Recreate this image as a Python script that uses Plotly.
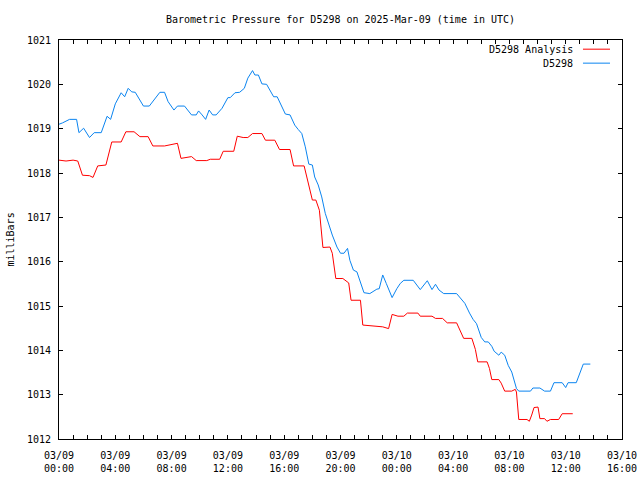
import plotly.graph_objects as go

# ---- data ----
blue_times = [
    "2025-03-09 00:00", "2025-03-09 00:15", "2025-03-09 00:45", "2025-03-09 01:15", "2025-03-09 01:25",
    "2025-03-09 01:45", "2025-03-09 02:10", "2025-03-09 02:30", "2025-03-09 03:00", "2025-03-09 03:25",
    "2025-03-09 03:40", "2025-03-09 04:00", "2025-03-09 04:25", "2025-03-09 04:40", "2025-03-09 04:55",
    "2025-03-09 05:10", "2025-03-09 05:25", "2025-03-09 06:00", "2025-03-09 06:25", "2025-03-09 07:10",
    "2025-03-09 07:30", "2025-03-09 07:45", "2025-03-09 08:10", "2025-03-09 08:25", "2025-03-09 08:55",
    "2025-03-09 09:25", "2025-03-09 09:45", "2025-03-09 09:55", "2025-03-09 10:10", "2025-03-09 10:25",
    "2025-03-09 10:40", "2025-03-09 10:55", "2025-03-09 11:10", "2025-03-09 11:35", "2025-03-09 12:00",
    "2025-03-09 12:10", "2025-03-09 12:30", "2025-03-09 12:50", "2025-03-09 13:10", "2025-03-09 13:25",
    "2025-03-09 13:45", "2025-03-09 13:55", "2025-03-09 14:10", "2025-03-09 14:25", "2025-03-09 14:45",
    "2025-03-09 15:15", "2025-03-09 15:30", "2025-03-09 15:55", "2025-03-09 16:05", "2025-03-09 16:25",
    "2025-03-09 16:45", "2025-03-09 17:00", "2025-03-09 17:15", "2025-03-09 17:30", "2025-03-09 17:45",
    "2025-03-09 18:00", "2025-03-09 18:10", "2025-03-09 18:25", "2025-03-09 18:40", "2025-03-09 18:55",
    "2025-03-09 19:10", "2025-03-09 19:25", "2025-03-09 19:45", "2025-03-09 20:00", "2025-03-09 20:15",
    "2025-03-09 20:30", "2025-03-09 20:40", "2025-03-09 20:55", "2025-03-09 21:10", "2025-03-09 21:25",
    "2025-03-09 21:40", "2025-03-09 22:05", "2025-03-09 22:35", "2025-03-09 22:45", "2025-03-09 23:00",
    "2025-03-09 23:15", "2025-03-09 23:30", "2025-03-09 23:40", "2025-03-10 00:00", "2025-03-10 00:15",
    "2025-03-10 00:30", "2025-03-10 01:10", "2025-03-10 01:40", "2025-03-10 02:10", "2025-03-10 02:30",
    "2025-03-10 02:45", "2025-03-10 03:00", "2025-03-10 03:20", "2025-03-10 04:15", "2025-03-10 04:50",
    "2025-03-10 05:10", "2025-03-10 05:25", "2025-03-10 05:40", "2025-03-10 06:00", "2025-03-10 06:15",
    "2025-03-10 06:30", "2025-03-10 06:45", "2025-03-10 06:55", "2025-03-10 07:15", "2025-03-10 07:25",
    "2025-03-10 07:40", "2025-03-10 07:55", "2025-03-10 08:10", "2025-03-10 08:20", "2025-03-10 08:30",
    "2025-03-10 08:40", "2025-03-10 09:30", "2025-03-10 09:40", "2025-03-10 10:10", "2025-03-10 10:30",
    "2025-03-10 10:55", "2025-03-10 11:10", "2025-03-10 11:45", "2025-03-10 12:00", "2025-03-10 12:10",
    "2025-03-10 12:45", "2025-03-10 12:55", "2025-03-10 13:15", "2025-03-10 13:45",
]
blue_values = [
    1019.10, 1019.13, 1019.21, 1019.21, 1018.91,
    1019.01, 1018.80, 1018.91, 1018.91, 1019.28,
    1019.21, 1019.56, 1019.81, 1019.72, 1019.91,
    1019.83, 1019.82, 1019.51, 1019.51, 1019.82,
    1019.82, 1019.61, 1019.42, 1019.51, 1019.51,
    1019.31, 1019.31, 1019.40, 1019.31, 1019.21,
    1019.42, 1019.31, 1019.31, 1019.46, 1019.70,
    1019.70, 1019.81, 1019.82, 1019.91, 1020.14,
    1020.31, 1020.21, 1020.21, 1020.01, 1020.00,
    1019.72, 1019.72, 1019.42, 1019.33, 1019.31,
    1019.08, 1018.98, 1018.89, 1018.59, 1018.20,
    1018.18, 1017.91, 1017.73, 1017.46, 1017.09,
    1016.82, 1016.60, 1016.33, 1016.19, 1016.19,
    1016.30, 1016.03, 1015.81, 1015.77, 1015.54,
    1015.30, 1015.28, 1015.38, 1015.39, 1015.70,
    1015.51, 1015.30, 1015.19, 1015.39, 1015.51,
    1015.58, 1015.58, 1015.37, 1015.57, 1015.37,
    1015.49, 1015.36, 1015.28, 1015.28, 1015.06,
    1014.84, 1014.70, 1014.60, 1014.29, 1014.19,
    1014.19, 1014.09, 1013.98, 1013.89, 1013.96,
    1013.89, 1013.66, 1013.51, 1013.34, 1013.14,
    1013.08, 1013.08, 1013.15, 1013.15, 1013.08,
    1013.08, 1013.27, 1013.27, 1013.16, 1013.27,
    1013.27, 1013.40, 1013.69, 1013.69,
]

red_times = [
    "2025-03-09 00:00", "2025-03-09 00:30", "2025-03-09 01:00", "2025-03-09 01:20", "2025-03-09 01:40",
    "2025-03-09 02:10", "2025-03-09 02:25", "2025-03-09 02:45", "2025-03-09 03:20", "2025-03-09 03:45",
    "2025-03-09 04:25", "2025-03-09 04:45", "2025-03-09 05:20", "2025-03-09 05:45", "2025-03-09 06:20",
    "2025-03-09 06:40", "2025-03-09 07:30", "2025-03-09 07:45", "2025-03-09 08:25", "2025-03-09 08:40",
    "2025-03-09 09:25", "2025-03-09 09:45", "2025-03-09 10:30", "2025-03-09 10:45", "2025-03-09 11:25",
    "2025-03-09 11:40", "2025-03-09 12:25", "2025-03-09 12:40", "2025-03-09 13:05", "2025-03-09 13:25",
    "2025-03-09 13:45", "2025-03-09 14:25", "2025-03-09 14:40", "2025-03-09 15:20", "2025-03-09 15:40",
    "2025-03-09 16:25", "2025-03-09 16:40", "2025-03-09 17:25", "2025-03-09 18:00", "2025-03-09 18:15",
    "2025-03-09 18:30", "2025-03-09 18:45", "2025-03-09 19:15", "2025-03-09 19:25", "2025-03-09 19:40",
    "2025-03-09 20:10", "2025-03-09 20:35", "2025-03-09 20:45", "2025-03-09 21:25", "2025-03-09 21:35",
    "2025-03-09 23:00", "2025-03-09 23:25", "2025-03-09 23:40", "2025-03-10 00:05", "2025-03-10 00:30",
    "2025-03-10 00:45", "2025-03-10 01:30", "2025-03-10 01:40", "2025-03-10 02:30", "2025-03-10 02:45",
    "2025-03-10 03:15", "2025-03-10 03:35", "2025-03-10 04:15", "2025-03-10 04:45", "2025-03-10 05:20",
    "2025-03-10 05:35", "2025-03-10 05:45", "2025-03-10 06:25", "2025-03-10 06:35", "2025-03-10 06:45",
    "2025-03-10 07:15", "2025-03-10 07:25", "2025-03-10 07:40", "2025-03-10 08:10", "2025-03-10 08:25",
    "2025-03-10 08:30", "2025-03-10 08:40", "2025-03-10 09:15", "2025-03-10 09:25", "2025-03-10 09:35",
    "2025-03-10 09:45", "2025-03-10 10:02", "2025-03-10 10:10", "2025-03-10 10:30", "2025-03-10 10:40",
    "2025-03-10 10:55", "2025-03-10 11:30", "2025-03-10 11:45", "2025-03-10 12:30",
]
red_values = [
    1018.29, 1018.27, 1018.29, 1018.27, 1017.95,
    1017.94, 1017.90, 1018.16, 1018.18, 1018.70,
    1018.70, 1018.93, 1018.93, 1018.82, 1018.82,
    1018.61, 1018.61, 1018.63, 1018.67, 1018.33,
    1018.37, 1018.28, 1018.28, 1018.31, 1018.31,
    1018.49, 1018.49, 1018.83, 1018.80, 1018.80,
    1018.89, 1018.89, 1018.74, 1018.74, 1018.53,
    1018.53, 1018.16, 1018.16, 1017.39, 1017.39,
    1017.16, 1016.32, 1016.33, 1016.19, 1015.62,
    1015.62, 1015.52, 1015.13, 1015.13, 1014.57,
    1014.53, 1014.49, 1014.81, 1014.77, 1014.77,
    1014.84, 1014.84, 1014.77, 1014.77, 1014.72,
    1014.72, 1014.62, 1014.62, 1014.27, 1014.27,
    1014.02, 1013.74, 1013.74, 1013.59, 1013.34,
    1013.34, 1013.26, 1013.08, 1013.08, 1013.12,
    1013.06, 1012.44, 1012.44, 1012.40, 1012.54,
    1012.71, 1012.72, 1012.46, 1012.46, 1012.40,
    1012.44, 1012.44, 1012.57, 1012.57,
]

series_names = ["D5298 Analysis", "D5298"]
series_colors = ["#ff0000", "#0a84f0"]

title_text = "Barometric Pressure for D5298 on 2025-Mar-09 (time in UTC)"
y_label = "milliBars"
x_range = ["2025-03-09 00:00", "2025-03-10 16:00"]
y_range = [1012, 1021]

FONT = "DejaVu Sans Mono"

fig = go.Figure()
fig.add_trace(go.Scatter(x=red_times, y=red_values, mode="lines", name=series_names[0],
                         line=dict(color=series_colors[0], width=1)))
fig.add_trace(go.Scatter(x=blue_times, y=blue_values, mode="lines", name=series_names[1],
                         line=dict(color=series_colors[1], width=1)))

# legend drawn gnuplot-style: right-aligned text with a line sample to the right
legend_rows = [0.977, 0.942]
for name, color, yy in zip(series_names, series_colors, legend_rows):
    fig.add_annotation(x=0.9165, y=yy, xref="paper", yref="paper", text=name,
                       showarrow=False, xanchor="right", yanchor="middle",
                       font=dict(family=FONT, size=10, color="black"))
    fig.add_shape(type="line", xref="paper", yref="paper", x0=0.9307, x1=0.9787,
                  y0=yy, y1=yy, line=dict(color=color, width=1))

fig.add_annotation(x=-0.087, y=0.5, xref="paper", yref="paper", text=y_label,
                   showarrow=False, textangle=-90, xanchor="center", yanchor="middle",
                   font=dict(family=FONT, size=10, color="black"))

fig.update_layout(
    width=640, height=480,
    margin=dict(l=59, r=18, t=40, b=41, autoexpand=False),
    paper_bgcolor="white", plot_bgcolor="white",
    showlegend=False,
    title=dict(text=title_text, x=0.532, xanchor="center", y=0.96, yanchor="middle",
               font=dict(family=FONT, size=10, color="black")),
    font=dict(family=FONT, size=10, color="black"),
)
fig.update_xaxes(
    type="date", range=x_range, showgrid=False, zeroline=False, automargin=False,
    showline=True, linecolor="black", linewidth=1, mirror="ticks",
    ticks="inside", ticklen=4, tickcolor="black",
    tick0="2025-03-09 00:00", dtick=4 * 3600 * 1000,
    tickformat="%m/%d<br>%H:%M", ticklabelstandoff=7,
    minor=dict(dtick=1 * 3600 * 1000, ticks="inside", ticklen=4, tickcolor="black", showgrid=False),
    tickfont=dict(family=FONT, size=10, color="black"),
)
fig.update_yaxes(
    range=y_range, showgrid=False, zeroline=False, automargin=False,
    showline=True, linecolor="black", linewidth=1, mirror="ticks",
    ticks="inside", ticklen=4, tickcolor="black", dtick=1, ticklabelstandoff=5,
    tickfont=dict(family=FONT, size=10, color="black"),
)

fig.write_html("out.html")
